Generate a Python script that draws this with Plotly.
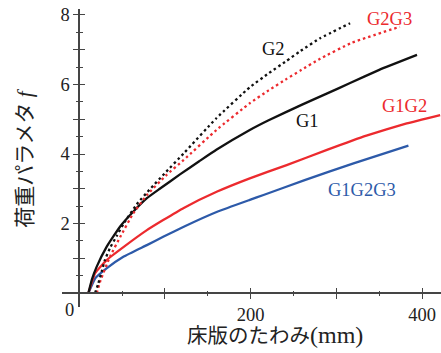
import plotly.graph_objects as go

# ---- data ----
g1_x = [10.8, 15, 20.5, 32, 47.6, 63, 79, 94, 118, 140, 160, 199, 221, 260, 290, 316, 350, 394]
g1_y = [0, 0.4, 0.76, 1.33, 1.91, 2.34, 2.73, 3.0, 3.42, 3.79, 4.12, 4.69, 4.97, 5.42, 5.75, 6.04, 6.42, 6.85]

g2_x = [18.5, 22.4, 26.3, 30, 36, 44, 52, 67, 83, 100, 122, 160, 199, 221, 242, 258, 281, 316]
g2_y = [0, 0.28, 0.62, 0.95, 1.3, 1.65, 2.0, 2.55, 3.0, 3.45, 4.02, 5.03, 5.92, 6.32, 6.68, 6.96, 7.33, 7.76]

g2g3_x = [20.5, 25, 36, 48, 63, 79, 102, 122, 160, 199, 221, 242, 258, 281, 318, 374]
g2g3_y = [0, 0.37, 1.05, 1.62, 2.29, 2.82, 3.4, 3.83, 4.69, 5.46, 5.83, 6.16, 6.4, 6.74, 7.2, 7.66]

g1g2_x = [10.8, 18.6, 32, 52, 79, 98, 122, 161, 199, 242, 289, 335, 382, 421]
g1g2_y = [0, 0.57, 0.95, 1.33, 1.81, 2.1, 2.45, 2.92, 3.3, 3.68, 4.12, 4.53, 4.88, 5.12]

g1g2g3_x = [10.8, 18.6, 32, 52, 79, 98, 122, 161, 199, 215, 263, 320, 384]
g1g2g3_y = [0, 0.42, 0.71, 1.05, 1.38, 1.62, 1.91, 2.34, 2.68, 2.82, 3.25, 3.73, 4.24]

x_tick_vals = [0, 100, 200, 300, 400]
x_tick_text = ["", "", "200", "", "400"]
x_minor_vals = [50, 150, 250, 350]
y_tick_vals = [0, 1, 2, 3, 4, 5, 6, 7, 8]
y_tick_text = ["", "", "2", "", "4", "", "6", "", "8"]
y_minor_vals = [0.5, 1.5, 2.5, 3.5, 4.5, 5.5, 6.5, 7.5]

labels = ["G2", "G1", "G2G3", "G1G2", "G1G2G3"]
label_x = [227, 266, 362, 379, 330]
label_y = [7.03, 4.95, 7.88, 5.37, 2.97]

BLACK = "#111111"
RED = "#ec2a2e"
BLUE = "#2d5aa9"
label_colors = [BLACK, BLACK, RED, RED, BLUE]

x_range = [-20, 422]
y_range = [-0.4, 8.17]

SERIF = "Liberation Serif"
JP = "Liberation Serif, Noto Sans CJK JP"
AX = "#454545"

fig = go.Figure()

def add(x, y, color, dash):
    fig.add_trace(go.Scatter(
        x=x, y=y, mode="lines",
        line=dict(color=color, width=2.3, dash=dash, shape="spline", smoothing=0.35),
        showlegend=False, hoverinfo="skip"))

add(g1g2g3_x, g1g2g3_y, BLUE, "solid")
add(g1g2_x, g1g2_y, RED, "solid")
add(g1_x, g1_y, BLACK, "solid")
add(g2g3_x, g2g3_y, RED, "2.5px,3px")
add(g2_x, g2_y, BLACK, "2.5px,3px")

# dummy trace so that the overlay axes (inside ticks) are drawn
fig.add_trace(go.Scatter(x=[None], y=[None], xaxis="x2", yaxis="y2",
                         showlegend=False, hoverinfo="skip"))

xpos = (0 - x_range[0]) / (x_range[1] - x_range[0])
ypos = (0 - y_range[0]) / (y_range[1] - y_range[0])

common_x = dict(range=x_range, showgrid=False, zeroline=False, fixedrange=True)
common_y = dict(range=y_range, showgrid=False, zeroline=False, fixedrange=True)

fig.update_layout(
    width=441, height=353,
    margin=dict(l=62, r=0, t=9, b=46),
    paper_bgcolor="white", plot_bgcolor="white",
    xaxis=dict(**common_x, anchor="free", position=ypos,
               showline=True, linecolor=AX, linewidth=1.5,
               tickmode="array", tickvals=x_tick_vals, ticktext=x_tick_text,
               ticks="outside", ticklen=5, tickwidth=1.3, tickcolor=AX,
               minor=dict(tickmode="array", tickvals=x_minor_vals, ticks="outside",
                          ticklen=2.5, tickwidth=1.3, tickcolor=AX),
               tickfont=dict(family=SERIF, size=18.5, color="#222")),
    yaxis=dict(**common_y, anchor="free", position=xpos,
               showline=True, linecolor=AX, linewidth=1.5,
               tickmode="array", tickvals=y_tick_vals, ticktext=y_tick_text,
               ticks="outside", ticklen=5, tickwidth=1.3, tickcolor=AX,
               minor=dict(tickmode="array", tickvals=y_minor_vals, ticks="outside",
                          ticklen=2.5, tickwidth=1.3, tickcolor=AX),
               tickfont=dict(family=SERIF, size=18.5, color="#222")),
    xaxis2=dict(**common_x, overlaying="x", anchor="free", position=ypos,
                showline=False, showticklabels=False,
                tickmode="array", tickvals=x_tick_vals,
                ticks="inside", ticklen=5, tickwidth=1.3, tickcolor=AX,
                minor=dict(tickmode="array", tickvals=x_minor_vals, ticks="inside",
                           ticklen=2.5, tickwidth=1.3, tickcolor=AX)),
    yaxis2=dict(**common_y, overlaying="y", anchor="free", position=xpos,
                showline=False, showticklabels=False,
                tickmode="array", tickvals=y_tick_vals,
                ticks="inside", ticklen=5, tickwidth=1.3, tickcolor=AX,
                minor=dict(tickmode="array", tickvals=y_minor_vals, ticks="inside",
                           ticklen=2.5, tickwidth=1.3, tickcolor=AX)),
)

annotations = []
for t, x, y, c in zip(labels, label_x, label_y, label_colors):
    annotations.append(dict(x=x, y=y, xref="x", yref="y", text=t, showarrow=False,
                            font=dict(family=SERIF, size=18.5, color=c),
                            xanchor="center", yanchor="middle"))
# origin label
annotations.append(dict(x=0, y=0, xref="x", yref="y", text="0", showarrow=False,
                        font=dict(family=SERIF, size=18.5, color="#222"),
                        xanchor="right", yanchor="top", xshift=-3, yshift=-5))
# axis titles
annotations.append(dict(x=0.562, y=-0.094, xref="paper", yref="paper",
                        text="床版のたわみ<span style='font-size:24px'>(mm)</span>",
                        showarrow=False, font=dict(family=JP, size=20.5, color="#222"),
                        xanchor="center", yanchor="middle"))
annotations.append(dict(x=-0.098, y=0.5, xref="paper", yref="paper",
                        text="荷重パラメタ <i>f</i>", textangle=-90,
                        showarrow=False, font=dict(family=JP, size=21, color="#222"),
                        xanchor="center", yanchor="middle"))
fig.update_layout(annotations=annotations)

fig.write_html("out.html")
